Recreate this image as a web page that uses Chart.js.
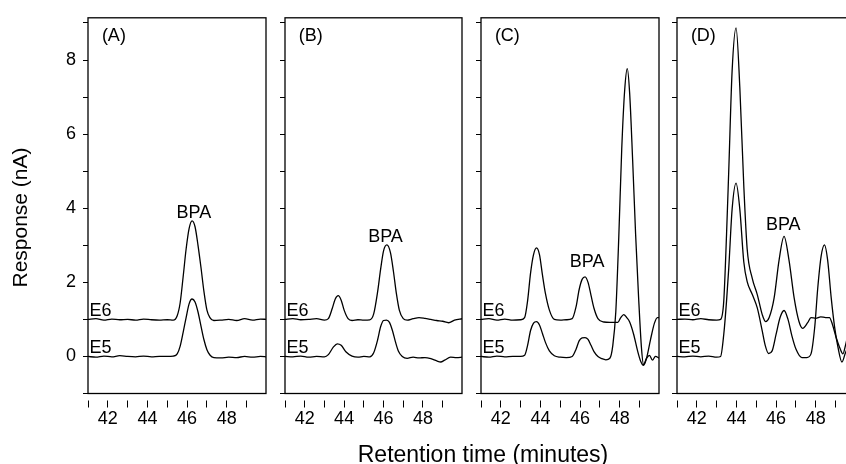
<!DOCTYPE html>
<html>
<head>
<meta charset="utf-8">
<script src="https://cdn.jsdelivr.net/npm/chart.js@4.4.1/dist/chart.umd.min.js"></script>
<style>
  html, body { margin: 0; padding: 0; background: #fff; }
  #wrap { position: relative; width: 846px; height: 464px; overflow: hidden; }
  #wrap canvas { position: absolute; left: 0; top: 0; }
</style>
</head>
<body>
<div id="wrap">
  <canvas id="pA" width="860" height="464"></canvas>
  <canvas id="pB" width="860" height="464"></canvas>
  <canvas id="pC" width="860" height="464"></canvas>
  <canvas id="pD" width="860" height="464"></canvas>
</div>
<script>
// Panel (A)
const aE6T = [41.0, 41.4, 41.8, 42.2, 42.6, 43.0, 43.4, 43.8, 44.2, 44.6, 45.0, 45.3, 45.5, 45.65, 45.8, 45.95, 46.1, 46.25, 46.4, 46.55, 46.7, 46.85, 47.0, 47.15, 47.35, 47.7, 48.1, 48.5, 48.9, 49.3, 49.7, 50.0];
const aE6V = [1.0, 1.02, 0.98, 1.01, 0.99, 1.0, 0.98, 1.01, 0.99, 0.98, 0.99, 0.98, 1.1, 1.45, 2.15, 2.9, 3.45, 3.66, 3.5, 3.0, 2.4, 1.75, 1.25, 1.05, 0.97, 0.98, 1.0, 0.97, 1.02, 0.98, 1.01, 1.0];
const aE5T = [41.0, 41.4, 41.8, 42.2, 42.6, 43.0, 43.4, 43.8, 44.2, 44.6, 45.0, 45.3, 45.5, 45.65, 45.8, 45.95, 46.1, 46.25, 46.4, 46.55, 46.7, 46.85, 47.0, 47.15, 47.35, 47.7, 48.1, 48.5, 48.9, 49.3, 49.7, 50.0];
const aE5V = [0.0, -0.02, 0.01, -0.01, 0.02, 0.0, -0.01, 0.01, -0.01, 0.0, 0.0, 0.01, 0.07, 0.28, 0.65, 1.05, 1.42, 1.55, 1.47, 1.2, 0.82, 0.45, 0.18, 0.04, -0.03, -0.04, -0.02, -0.03, 0.0, -0.02, 0.0, -0.01];

// Panel (B)
const bE6T = [41.0, 41.4, 41.8, 42.2, 42.6, 43.0, 43.2, 43.4, 43.55, 43.7, 43.85, 44.0, 44.2, 44.4, 44.7, 45.0, 45.3, 45.5, 45.7, 45.85, 46.0, 46.17, 46.35, 46.5, 46.65, 46.8, 47.0, 47.2, 47.5, 47.8, 48.1, 48.4, 48.7, 49.0, 49.3, 49.6, 50.0];
const bE6V = [1.0, 1.02, 0.99, 1.0, 1.02, 0.98, 1.02, 1.3, 1.55, 1.64, 1.52, 1.25, 1.02, 0.97, 0.99, 0.98, 0.99, 1.15, 1.75, 2.35, 2.85, 3.01, 2.8, 2.3, 1.7, 1.25, 1.02, 0.98, 1.02, 1.05, 1.03, 1.0, 0.97, 0.95, 0.91, 0.98, 1.02];
const bE5T = [41.0, 41.4, 41.8, 42.2, 42.6, 43.0, 43.2, 43.45, 43.65, 43.85, 44.1, 44.4, 44.7, 45.0, 45.3, 45.5, 45.7, 45.85, 46.0, 46.15, 46.3, 46.45, 46.6, 46.75, 46.95, 47.2, 47.5, 47.8, 48.1, 48.4, 48.7, 48.9, 49.1, 49.4, 49.7, 50.0];
const bE5V = [0.0, -0.01, 0.01, -0.02, 0.0, -0.01, 0.05, 0.25, 0.34, 0.3, 0.12, 0.01, -0.02, 0.0, -0.01, 0.1, 0.45, 0.8, 0.97, 0.98, 0.92, 0.7, 0.4, 0.15, 0.0, -0.05, -0.02, -0.04, -0.03, -0.06, -0.12, -0.15, -0.1, -0.02, -0.03, -0.02];

// Panel (C)
const cE6T = [41.0, 41.4, 41.8, 42.2, 42.6, 43.0, 43.2, 43.35, 43.5, 43.65, 43.8, 43.95, 44.1, 44.25, 44.45, 44.7, 45.0, 45.3, 45.6, 45.8, 45.95, 46.1, 46.25, 46.4, 46.55, 46.7, 46.9, 47.2, 47.5, 47.9, 48.05, 48.2, 48.35, 48.5, 48.7, 48.9, 49.05, 49.2, 49.35, 49.55, 49.75, 49.9, 50.0];
const cE6V = [1.0, 1.02, 0.98, 1.01, 0.98, 0.99, 1.05, 1.5, 2.25, 2.75, 2.93, 2.75, 2.2, 1.7, 1.25, 1.0, 0.98, 0.99, 1.02, 1.35, 1.8, 2.08, 2.15, 2.0, 1.65, 1.3, 1.02, 0.93, 0.92, 0.92, 1.05, 1.13, 1.05, 0.93, 0.6, 0.15, -0.12, -0.24, -0.05, 0.45, 0.9, 1.05, 1.05];
const cE5T = [41.0, 41.4, 41.8, 42.2, 42.6, 43.0, 43.2, 43.35, 43.5, 43.65, 43.8, 43.95, 44.1, 44.25, 44.45, 44.7, 45.0, 45.3, 45.6, 45.8, 45.95, 46.1, 46.25, 46.4, 46.55, 46.7, 46.9, 47.1, 47.3, 47.5, 47.65, 47.8, 47.95, 48.1, 48.25, 48.38, 48.5, 48.65, 48.8, 48.95, 49.1, 49.2, 49.35, 49.5, 49.65, 49.8, 50.0];
const cE5V = [0.0, -0.02, 0.01, -0.01, 0.0, 0.0, 0.03, 0.3, 0.7, 0.9, 0.94, 0.85, 0.62, 0.38, 0.15, 0.02, -0.02, -0.03, 0.0, 0.2, 0.42, 0.5, 0.51, 0.46, 0.3, 0.13, 0.0, -0.06, -0.09, -0.05, 0.3, 1.2, 3.2, 5.6, 7.2, 7.77, 7.1, 5.3, 3.3, 1.6, 0.2, -0.22, -0.05, 0.03, -0.1, 0.0, -0.05];

// Panel (D)
const dE6T = [41.0, 41.4, 41.8, 42.2, 42.6, 43.0, 43.2, 43.36, 43.5, 43.61, 43.78, 43.98, 44.17, 44.37, 44.54, 44.8, 45.05, 45.3, 45.47, 45.65, 45.9, 46.15, 46.4, 46.65, 46.91, 47.15, 47.34, 47.59, 47.76, 48.0, 48.25, 48.5, 48.69, 48.85, 49.03, 49.2, 49.37, 49.5, 49.7, 50.0];
const dE6V = [1.0, 1.01, 0.99, 1.02, 0.99, 0.98, 1.0, 1.5, 3.3, 5.0, 7.7, 8.87, 7.25, 4.6, 2.9, 2.1, 1.67, 1.13, 0.94, 1.05, 1.58, 2.6, 3.24, 2.6, 1.58, 0.95, 0.76, 0.91, 1.05, 1.03, 1.07, 1.05, 1.05, 0.85, 0.51, 0.25, 0.07, 0.3, 0.75, 1.0];
const dE5T = [41.0, 41.4, 41.8, 42.2, 42.6, 43.0, 43.2, 43.36, 43.5, 43.61, 43.78, 43.98, 44.17, 44.37, 44.54, 44.8, 45.05, 45.3, 45.45, 45.62, 45.8, 46.0, 46.2, 46.4, 46.6, 46.8, 47.0, 47.3, 47.55, 47.76, 47.95, 48.1, 48.27, 48.44, 48.6, 48.78, 48.95, 49.12, 49.32, 49.5, 49.7, 50.0];
const dE5V = [0.0, -0.01, 0.01, -0.01, 0.01, -0.02, 0.0, 0.6, 1.5, 2.37, 3.97, 4.68, 3.97, 2.55, 2.02, 1.67, 1.31, 0.69, 0.3, 0.08, 0.15, 0.6, 1.05, 1.24, 1.0, 0.55, 0.2, -0.03, -0.03, 0.07, 0.8, 1.84, 2.7, 3.01, 2.6, 1.58, 0.8, 0.25, -0.15, 0.1, 0.3, 0.2];

// labels
const panelTags = ['(A)', '(B)', '(C)', '(D)'];
const seriesNames = ['E6', 'E5'];
const seriesLabelY = [1.09, 0.08];
const bpaX = [46.34, 46.1, 46.35, 46.36];
const bpaY = [3.75, 3.09, 2.42, 3.4];
const xTickLabels = [42, 44, 46, 48];
const yTickLabels = [0, 2, 4, 6, 8];

const FONT = '"Liberation Sans", Arial, Helvetica, sans-serif';
Chart.defaults.font.family = FONT;
Chart.defaults.color = '#000';

// page-pixel boxes of the four panels
const boxLeft = [88, 285, 481, 677];
const boxRight = [266, 462, 659, 855];
const CANVAS_W = 860;

const frame = {
  id: 'frame',
  afterDatasetsDraw(chart) {
    const { ctx, chartArea: a, scales: { x, y } } = chart;
    const i = chart.options.plugins.frame.index;
    ctx.save();
    ctx.strokeStyle = '#000';
    ctx.lineWidth = 1.3;
    ctx.strokeRect(a.left, a.top, a.right - a.left, a.bottom - a.top);

    ctx.fillStyle = '#000';
    ctx.font = '18px ' + FONT;
    ctx.textAlign = 'left';
    ctx.textBaseline = 'middle';
    ctx.fillText(panelTags[i], x.getPixelForValue(41.7), y.getPixelForValue(8.64));

    ctx.textBaseline = 'alphabetic';
    seriesNames.forEach((n, k) => {
      ctx.fillText(n, x.getPixelForValue(41.07), y.getPixelForValue(seriesLabelY[k]));
    });
    ctx.textAlign = 'center';
    ctx.fillText('BPA', x.getPixelForValue(bpaX[i]), y.getPixelForValue(bpaY[i]));

    if (i === 0) {
      ctx.font = '23px ' + FONT;
      ctx.fillText('Retention time (minutes)', 483, 461.5);
      ctx.font = '21px ' + FONT;
      ctx.translate(21, 217.5);
      ctx.rotate(-Math.PI / 2);
      ctx.textBaseline = 'middle';
      ctx.fillText('Response (nA)', 0, 0);
    }
    ctx.restore();
  }
};

function trace(t, v) {
  return {
    data: t.map((x, k) => ({ x, y: v[k] })),
    borderColor: '#000',
    borderWidth: 1.3,
    pointRadius: 0,
    fill: false,
    cubicInterpolationMode: 'monotone'
  };
}

function makePanel(i, id, e6t, e6v, e5t, e5v) {
  const yw = i === 0 ? 84 : 5;
  new Chart(document.getElementById(id), {
    type: 'line',
    data: { datasets: [trace(e6t, e6v), trace(e5t, e5v)] },
    plugins: [frame],
    options: {
      responsive: false,
      animation: false,
      devicePixelRatio: 1,
      layout: {
        padding: { left: boxLeft[i] - yw, right: CANVAS_W - boxRight[i], top: 13, bottom: 20.5 }
      },
      plugins: { legend: { display: false }, tooltip: { enabled: false }, frame: { index: i } },
      scales: {
        x: {
          type: 'linear',
          min: 41,
          max: 49.98,
          afterFit: s => { s.height = 50; },
          border: { display: false },
          grid: {
            drawOnChartArea: false,
            tickLength: 14,
            tickColor: '#000',
            tickWidth: 1,
            tickBorderDash: [0, 6.5, 7.5, 40]
          },
          ticks: {
            stepSize: 1,
            includeBounds: false,
            autoSkip: false,
            maxRotation: 0,
            padding: 1,
            color: '#000',
            font: { size: 18 },
            callback: v => xTickLabels.includes(v) ? String(v) : ''
          }
        },
        y: {
          min: -1,
          max: 9.14,
          afterFit: s => { s.width = yw; },
          border: { display: false },
          grid: { drawOnChartArea: false, tickLength: 5, tickColor: '#000', tickWidth: 1 },
          ticks: {
            stepSize: 1,
            includeBounds: false,
            autoSkip: false,
            padding: 7,
            color: '#000',
            font: { size: 18 },
            callback: v => (i === 0 && yTickLabels.includes(v)) ? String(v) : ''
          }
        }
      }
    }
  });
}

makePanel(0, 'pA', aE6T, aE6V, aE5T, aE5V);
makePanel(1, 'pB', bE6T, bE6V, bE5T, bE5V);
makePanel(2, 'pC', cE6T, cE6V, cE5T, cE5V);
makePanel(3, 'pD', dE6T, dE6V, dE5T, dE5V);
</script>
</body>
</html>
